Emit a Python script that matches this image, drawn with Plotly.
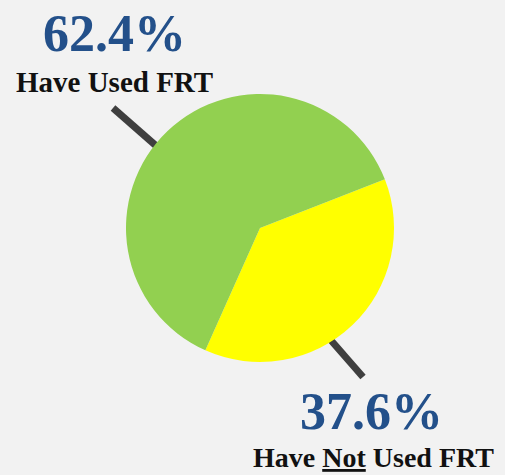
import plotly.graph_objects as go

labels = ["Have Not Used FRT", "Have Used FRT"]
values = [37.6, 62.4]
colors = ["#FFFF00", "#92D050"]

W, H = 505, 475
BG = "#F2F2F2"
NUM_COLOR = "#23508A"
SERIF = "Liberation Serif, DejaVu Serif, serif"

fig = go.Figure(go.Pie(
    labels=labels, values=values, sort=False, direction="clockwise",
    rotation=68.7, marker=dict(colors=colors, line=dict(width=0)),
    textinfo="none", hoverinfo="label+percent", showlegend=False,
    domain=dict(x=[(260 - 134) / W, (260 + 134) / W], y=[1 - 362 / H, 1 - 94 / H]),
))

def px(x, y):
    return x / W, 1 - y / H

shapes = []
for (xa, ya), (xb, yb) in [((113, 108), (170, 158)), ((315, 322), (363, 377))]:
    x0, y0 = px(xa, ya)
    x1, y1 = px(xb, yb)
    shapes.append(dict(type="line", xref="paper", yref="paper", x0=x0, y0=y0, x1=x1, y1=y1,
                       line=dict(color="#3F3F3F", width=7), layer="below"))

ann = []
def add(text, x, y, size, color):
    xp, yp = px(x, y)
    ann.append(dict(text=text, x=xp, y=yp, xref="paper", yref="paper", showarrow=False,
                    xanchor="center", yanchor="middle",
                    font=dict(family=SERIF, size=size, color=color)))

add("<b>%.1f%%</b>" % values[1], 114, 33, 52, NUM_COLOR)
add("<b>Have Used FRT</b>", 114, 82, 29, "#111111")
add("<b>%.1f%%</b>" % values[0], 371, 411, 52, NUM_COLOR)
add("<b>Have <u>Not</u> Used FRT</b>", 373, 457, 28, "#111111")

fig.update_layout(width=W, height=H, margin=dict(l=0, r=0, t=0, b=0),
                  paper_bgcolor=BG, plot_bgcolor=BG, shapes=shapes, annotations=ann)
fig.write_html("out.html", config={"displayModeBar": False},
               post_script="document.body.style.margin='0';document.body.style.overflow='hidden';")
